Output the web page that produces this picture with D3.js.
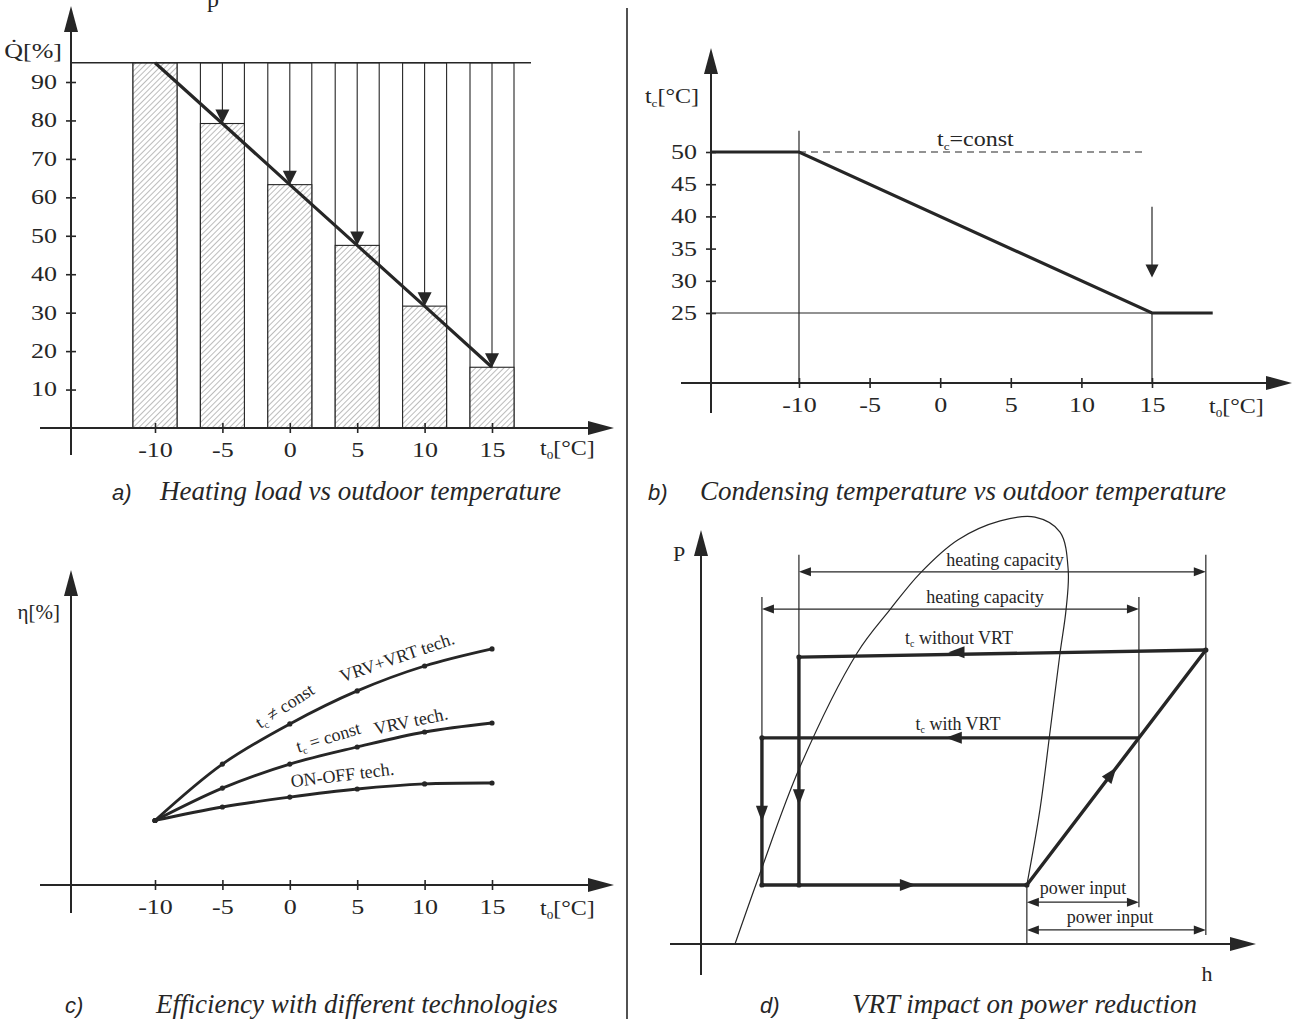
<!DOCTYPE html>
<html>
<head>
<meta charset="utf-8">
<script src="https://cdn.jsdelivr.net/npm/d3@7"></script>
<style>
  body { margin: 0; background: #fff; }
  svg { display: block; }
</style>
</head>
<body>
<svg id="fig" width="1306" height="1019"></svg>
<script>
// ---------- (a) heating load vs outdoor temperature ----------
const outdoorTemps = [-10, -5, 0, 5, 10, 15];
const heatingLoad = [95, 79.2, 63.3, 47.5, 31.7, 15.8];
const loadTicks = [10, 20, 30, 40, 50, 60, 70, 80, 90];
const designLoad = 95;

// ---------- (b) condensing temperature ----------
const condTicks = [25, 30, 35, 40, 45, 50];
const condCurveT = [-16.2, -10, 15, 19.3];
const condCurveC = [50, 50, 25, 25];
const condConst = 50;
const condConstEnd = 14.5;
const condGuideTop = 53.3;
const condArrowFrom = 41.5;
const condArrowTo = 30.5;

// ---------- (c) efficiency by technology ----------
const effVrvVrt = [21.5, 40.3, 53.7, 64.7, 73.0, 78.7];
const effVrv    = [21.5, 32.3, 40.3, 46.0, 51.0, 54.0];
const effOnOff  = [21.5, 26.0, 29.3, 32.0, 33.7, 34.0];

// ---------- (d) P-h diagram ----------
const domeH = [6.25, 10.85, 18.2, 28.7, 34.7, 40.3, 47.2, 55.0, 61.4, 66.0, 67.5, 67.1, 66.0, 64.2, 62.3, 59.9];
const domeP = [0, 17.1, 42.8, 70.3, 80.7, 89.6, 97.6, 102.2, 103.1, 99.5, 90.3, 80.7, 70.3, 51.7, 32.4, 14.25];
// cycle without VRT: compressor outlet -> condenser -> expansion
const noVrtH = [92.8, 18.0, 18.0];
const noVrtP = [71.0, 69.3, 14.25];
// cycle with VRT
const vrtH = [80.5, 11.2, 11.2];
const vrtP = [49.8, 49.8, 14.25];
// evaporation and compression (shared)
const evapH = [11.2, 59.9, 92.8];
const evapP = [14.25, 14.25, 71.0];
const heatCapNoVrt = { h1: 18.0, h2: 92.8, p: 89.9 };
const heatCapVrt   = { h1: 11.2, h2: 80.5, p: 80.9 };
const powerVrt     = { h1: 59.9, h2: 80.5, p: 10.1 };
const powerNoVrt   = { h1: 59.9, h2: 92.8, p: 3.4 };

const captions = [
  { tag: "a)", text: "Heating load vs outdoor temperature", tx: 112, x: 160, y: 500 },
  { tag: "b)", text: "Condensing temperature vs outdoor temperature", tx: 648, x: 700, y: 500 },
  { tag: "c)", text: "Efficiency with different technologies", tx: 65, x: 156, y: 1013 },
  { tag: "d)", text: "VRT impact on power reduction", tx: 760, x: 852, y: 1013 }
];

const ink = "#262626";
const serif = '"Liberation Serif", "Times New Roman", serif';
const sans = '"Liberation Sans", Arial, sans-serif';
const SX = 1.3;   // horizontal stretch of the tick lettering
const SXT = 1.2;  // horizontal stretch of the axis titles

const svg = d3.select("#fig");
const defs = svg.append("defs");
const pat = defs.append("pattern")
  .attr("id", "hatch")
  .attr("patternUnits", "userSpaceOnUse")
  .attr("width", 4).attr("height", 4)
  .attr("patternTransform", "rotate(45)");
pat.append("rect").attr("width", 4).attr("height", 4).attr("fill", "#fff");
pat.append("line").attr("x1", 0).attr("y1", 0).attr("x2", 0).attr("y2", 4)
  .attr("stroke", "#6a6a6a").attr("stroke-width", 0.9);

// filled triangular arrowhead with its tip at (x, y), pointing along angle (degrees)
function arrowHead(g, x, y, angle, len, wid) {
  g.append("path")
    .attr("d", `M0,0L${-len},${-wid / 2}L${-len},${wid / 2}Z`)
    .attr("transform", `translate(${x},${y}) rotate(${angle})`)
    .attr("fill", ink);
}
function seg(g, x1, y1, x2, y2, w, dash) {
  const l = g.append("line").attr("x1", x1).attr("y1", y1).attr("x2", x2).attr("y2", y2)
    .attr("stroke", ink).attr("stroke-width", w || 1.2);
  if (dash) l.attr("stroke-dasharray", dash);
  return l;
}
// plain text
function label(g, x, y, txt, size, anchor) {
  return g.append("text").attr("x", x).attr("y", y).text(txt)
    .attr("font-family", serif).attr("font-size", size || 20)
    .attr("text-anchor", anchor || "start").attr("fill", ink);
}
// widened axis lettering
function wide(g, x, y, size, anchor, sx) {
  return g.append("text").attr("transform", `translate(${x},${y}) scale(${sx || SX},1)`)
    .attr("font-family", serif).attr("font-size", size)
    .attr("text-anchor", anchor || "start").attr("fill", ink);
}
// append base + subscript + rest into a text element
function withSub(t, base, sub, rest, size) {
  t.append("tspan").text(base);
  t.append("tspan").text(sub).attr("font-size", size * 0.55).attr("dy", size * 0.18);
  t.append("tspan").text(rest).attr("dy", -size * 0.18);
  return t;
}
function subLabel(g, x, y, base, sub, rest, size, anchor) {
  const t = g.append("text").attr("x", x).attr("y", y)
    .attr("font-family", serif).attr("font-size", size)
    .attr("text-anchor", anchor || "start").attr("fill", ink);
  return withSub(t, base, sub, rest, size);
}
function styleAxis(g, horizontal) {
  g.select(".domain").remove();
  g.selectAll(".tick line").attr("stroke", ink).attr("stroke-width", 1.6);
  const txt = g.selectAll(".tick text").attr("font-family", serif).attr("font-size", 20).attr("fill", ink);
  if (horizontal) {
    g.selectAll(".tick line").attr("y1", -5).attr("y2", 5);
    txt.attr("transform", `scale(${SX},1)`);
  } else {
    g.selectAll(".tick line").attr("x1", -5).attr("x2", 5);
    txt.each(function () {
      const s = d3.select(this);
      const off = +s.attr("x");
      s.attr("x", 0).attr("transform", `translate(${off},0) scale(${SX},1)`);
    });
  }
}
const plain = d => String(d);

// stray glyph from the text above the figure
svg.append("text").attr("x", 207).attr("y", 7).text("p")
  .attr("font-family", serif).attr("font-size", 24).attr("fill", ink);

// panel separator
seg(svg, 627, 8, 627, 1019, 1.6);

// =================== panel a ===================
{
  const g = svg.append("g");
  const x = d3.scaleLinear().domain([-10, 15]).range([155, 492]);
  const y = d3.scaleLinear().domain([0, 90]).range([428, 82]);
  const bw = 44;
  const axisY = y(0);

  // outer columns (design load envelope)
  g.selectAll("rect.col").data(outdoorTemps).join("rect").attr("class", "col")
    .attr("x", d => x(d) - bw / 2).attr("width", bw)
    .attr("y", y(designLoad)).attr("height", axisY - y(designLoad))
    .attr("fill", "none").attr("stroke", ink).attr("stroke-width", 1.1);
  // hatched load bars
  g.selectAll("rect.bar").data(outdoorTemps).join("rect").attr("class", "bar")
    .attr("x", d => x(d) - bw / 2).attr("width", bw)
    .attr("y", (d, i) => y(heatingLoad[i])).attr("height", (d, i) => axisY - y(heatingLoad[i]))
    .attr("fill", "url(#hatch)").attr("stroke", ink).attr("stroke-width", 1.1);
  // design load line
  seg(g, 71, y(designLoad), 531, y(designLoad), 1.4);
  // reduction arrows
  outdoorTemps.forEach((t, i) => {
    if (heatingLoad[i] >= designLoad) return;
    seg(g, x(t), y(designLoad), x(t), y(heatingLoad[i]) - 10, 1.1);
    arrowHead(g, x(t), y(heatingLoad[i]), 90, 14, 14);
  });
  // load line
  g.append("path")
    .attr("d", d3.line().x((d, i) => x(d)).y((d, i) => y(heatingLoad[i]))(outdoorTemps))
    .attr("fill", "none").attr("stroke", ink).attr("stroke-width", 3.2);

  // axes
  g.append("g").attr("transform", `translate(0,${axisY})`)
    .call(d3.axisBottom(x).tickValues(outdoorTemps).tickFormat(plain).tickSize(5).tickPadding(10))
    .call(a => styleAxis(a, true));
  g.append("g").attr("transform", "translate(71,0)")
    .call(d3.axisLeft(y).tickValues(loadTicks).tickFormat(plain).tickSize(5).tickPadding(9))
    .call(a => styleAxis(a, false));
  seg(g, 40, axisY, 600, axisY, 2);
  arrowHead(g, 614, axisY, 0, 26, 14);
  seg(g, 71, 455, 71, 20, 2);
  arrowHead(g, 71, 6, -90, 26, 14);

  wide(g, 62, 58, 20, "end").text("Q\u0307[%]");
  withSub(wide(g, 540, 455, 20, "start", SXT), "t", "0", "[°C]", 20);
}

// =================== panel b ===================
{
  const g = svg.append("g");
  const x = d3.scaleLinear().domain([-10, 15]).range([799, 1152]);
  const y = d3.scaleLinear().domain([25, 50]).range([313, 152]);
  const axisY = 383, axisX = 711;

  seg(g, x(-10), y(condGuideTop), x(-10), axisY, 1.2);
  seg(g, axisX, y(25), x(15), y(25), 1.2);
  seg(g, x(15), y(25), x(15), axisY, 1.2);
  seg(g, x(-10), y(condConst), x(condConstEnd), y(condConst), 1.2, "7,5");
  g.append("path")
    .attr("d", d3.line().x((d, i) => x(d)).y((d, i) => y(condCurveC[i]))(condCurveT))
    .attr("fill", "none").attr("stroke", ink).attr("stroke-width", 3.2);
  seg(g, x(15), y(condArrowFrom), x(15), y(condArrowTo) - 10, 1.2);
  arrowHead(g, x(15), y(condArrowTo), 90, 13, 13);

  g.append("g").attr("transform", `translate(0,${axisY})`)
    .call(d3.axisBottom(x).tickValues(outdoorTemps).tickFormat(plain).tickSize(5).tickPadding(10))
    .call(a => styleAxis(a, true));
  g.append("g").attr("transform", `translate(${axisX},0)`)
    .call(d3.axisLeft(y).tickValues(condTicks).tickFormat(plain).tickSize(5).tickPadding(9))
    .call(a => styleAxis(a, false));
  seg(g, 681, axisY, 1278, axisY, 2);
  arrowHead(g, 1292, axisY, 0, 26, 14);
  seg(g, axisX, 413, axisX, 62, 2);
  arrowHead(g, axisX, 48, -90, 26, 14);

  withSub(wide(g, 699, 103, 20, "end", SXT), "t", "c", "[°C]", 20);
  withSub(wide(g, 1209, 413, 20, "start", SXT), "t", "0", "[°C]", 20);
  withSub(wide(g, 937, 146, 20, "start", SXT), "t", "c", "=const", 20);
}

// =================== panel c ===================
{
  const g = svg.append("g");
  const x = d3.scaleLinear().domain([-10, 15]).range([155, 492]);
  const y = d3.scaleLinear().domain([0, 100]).range([885, 585]);
  const axisY = y(0);
  const series = [effVrvVrt, effVrv, effOnOff];
  const line = d3.line().x((d, i) => x(outdoorTemps[i])).y(d => y(d)).curve(d3.curveCatmullRom.alpha(0.5));
  series.forEach(s => {
    g.append("path").attr("d", line(s)).attr("fill", "none").attr("stroke", ink).attr("stroke-width", 2.8);
    g.selectAll(null).data(s).join("circle")
      .attr("cx", (d, i) => x(outdoorTemps[i])).attr("cy", d => y(d)).attr("r", 2.6).attr("fill", ink);
  });

  g.append("g").attr("transform", `translate(0,${axisY})`)
    .call(d3.axisBottom(x).tickValues(outdoorTemps).tickFormat(plain).tickSize(5).tickPadding(10))
    .call(a => styleAxis(a, true));
  seg(g, 40, axisY, 600, axisY, 2);
  arrowHead(g, 614, axisY, 0, 26, 14);
  seg(g, 71, 913, 71, 584, 2);
  arrowHead(g, 71, 570, -90, 26, 14);

  label(g, 60, 619, "η[%]", 21, "end");
  withSub(wide(g, 540, 915, 20, "start", SXT), "t", "0", "[°C]", 20);

  const rot = (cx, cy, a) => `translate(${cx},${cy}) rotate(${a})`;
  subLabel(g, 0, 0, "t", "c", " ≠ const", 18, "middle").attr("transform", rot(288, 711, -33));
  label(g, 0, 0, "VRV+VRT tech.", 18, "middle").attr("transform", rot(399, 663, -19));
  subLabel(g, 0, 0, "t", "c", " = const", 18, "middle").attr("transform", rot(330, 743, -17));
  label(g, 0, 0, "VRV tech.", 18, "middle").attr("transform", rot(412, 727, -12));
  label(g, 0, 0, "ON-OFF tech.", 18, "middle").attr("transform", rot(343, 781, -7));
}

// =================== panel d ===================
{
  const g = svg.append("g");
  const x = d3.scaleLinear().domain([0, 100]).range([701, 1245]);
  const y = d3.scaleLinear().domain([0, 100]).range([944, 530]);
  const axisY = y(0), axisX = x(0);

  // saturation dome
  g.append("path")
    .attr("d", d3.line().x((d, i) => x(d)).y((d, i) => y(domeP[i])).curve(d3.curveCatmullRom.alpha(0.5))(domeH))
    .attr("fill", "none").attr("stroke", ink).attr("stroke-width", 1.2);

  // extension lines
  seg(g, x(heatCapNoVrt.h1), y(94), x(heatCapNoVrt.h1), y(noVrtP[1]), 1.2);
  seg(g, x(heatCapVrt.h1), y(83.8), x(heatCapVrt.h1), y(vrtP[1]), 1.2);
  seg(g, x(heatCapNoVrt.h2), y(94), x(heatCapNoVrt.h2), y(2.2), 1.2);
  seg(g, x(heatCapVrt.h2), y(83.8), x(heatCapVrt.h2), y(8.9), 1.2);
  seg(g, x(evapH[1]), y(evapP[1]), x(evapH[1]), axisY, 1.2);

  // dimension arrows
  function dim(d) {
    const x1 = x(d.h1), x2 = x(d.h2), yy = y(d.p);
    seg(g, x1 + 6, yy, x2 - 6, yy, 1.2);
    arrowHead(g, x1, yy, 180, 12, 9);
    arrowHead(g, x2, yy, 0, 12, 9);
  }
  dim(heatCapNoVrt); dim(heatCapVrt); dim(powerVrt); dim(powerNoVrt);
  label(g, 1005, y(heatCapNoVrt.p) - 6, "heating capacity", 18, "middle");
  label(g, 985, y(heatCapVrt.p) - 6, "heating capacity", 18, "middle");
  label(g, 1083, y(powerVrt.p) - 8, "power input", 18, "middle");
  label(g, 1110, y(powerNoVrt.p) - 7, "power input", 18, "middle");

  // cycles
  const ln = d3.line().x(d => x(d[0])).y(d => y(d[1]));
  const thick = (hs, ps) => g.append("path").attr("d", ln(hs.map((h, i) => [h, ps[i]])))
    .attr("fill", "none").attr("stroke", ink).attr("stroke-width", 3.4).attr("stroke-linejoin", "round");
  thick(noVrtH, noVrtP);
  thick(vrtH, vrtP);
  thick(evapH, evapP);
  g.selectAll(null).data([[noVrtH[0], noVrtP[0]], [noVrtH[1], noVrtP[1]], [vrtH[1], vrtP[1]], [vrtH[2], vrtP[2]], [noVrtH[2], noVrtP[2]], [evapH[1], evapP[1]]])
    .join("circle").attr("cx", d => x(d[0])).attr("cy", d => y(d[1])).attr("r", 2.6).attr("fill", ink);

  // flow direction arrows
  const midTop = (noVrtP[0] + noVrtP[1]) / 2;
  arrowHead(g, x(45.5), y(midTop + 0.3), 180, 16, 12);
  arrowHead(g, x(45.0), y(vrtP[0]), 180, 16, 12);
  arrowHead(g, x(18.0), y(33.5), 90, 16, 12);
  arrowHead(g, x(11.2), y(29.5), 90, 16, 12);
  arrowHead(g, x(39.5), y(14.25), 0, 16, 12);
  const ang = Math.atan2(y(evapP[2]) - y(evapP[1]), x(evapH[2]) - x(evapH[1])) * 180 / Math.PI;
  const fr = 0.5;
  arrowHead(g, x(evapH[1] + fr * (evapH[2] - evapH[1])), y(evapP[1] + fr * (evapP[2] - evapP[1])), ang, 16, 12);

  subLabel(g, 959, y(noVrtP[0]) - 6, "t", "c", " without VRT", 18, "middle");
  subLabel(g, 958, y(vrtP[0]) - 8, "t", "c", " with VRT", 18, "middle");

  // axes
  seg(g, 670, axisY, 1242, axisY, 2);
  arrowHead(g, 1256, axisY, 0, 26, 14);
  seg(g, axisX, 975, axisX, 544, 2);
  arrowHead(g, axisX, 530, -90, 26, 14);
  label(g, 673, 561, "P", 22);
  label(g, 1207, 981, "h", 22, "middle");
}

// captions
const cap = svg.append("g");
captions.forEach(c => {
  cap.append("text").attr("x", c.tx).attr("y", c.y).text(c.tag)
    .attr("font-family", sans).attr("font-style", "italic").attr("font-size", 22).attr("fill", ink);
  cap.append("text").attr("x", c.x).attr("y", c.y).text(c.text)
    .attr("font-family", serif).attr("font-style", "italic").attr("font-size", 27).attr("fill", ink);
});
</script>
</body>
</html>
